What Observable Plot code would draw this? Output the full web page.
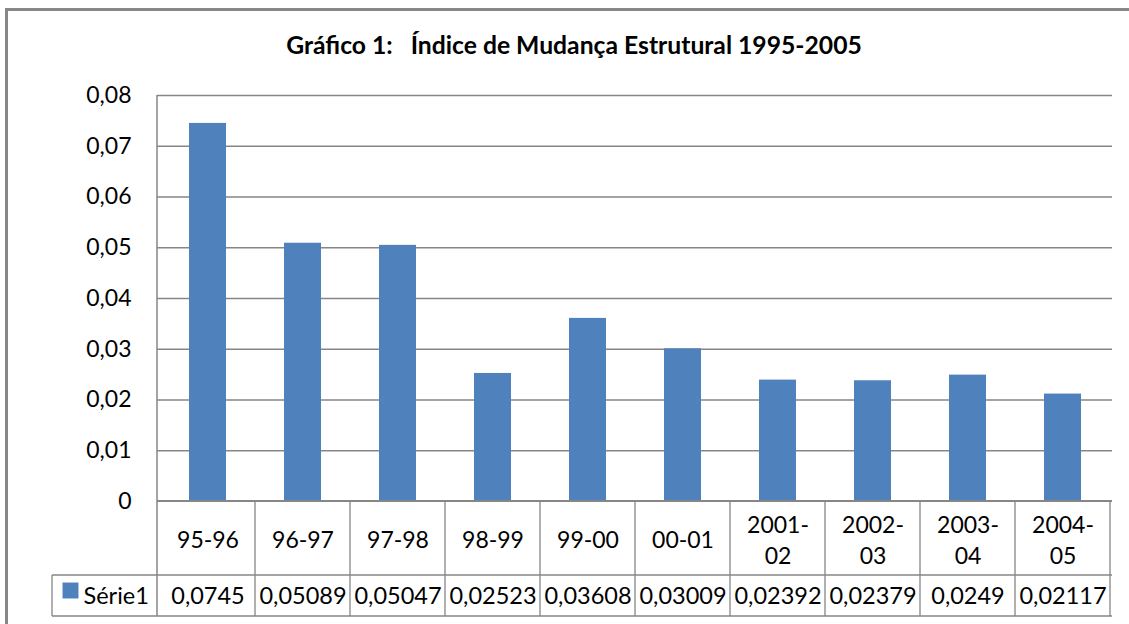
<!DOCTYPE html>
<html>
<head>
<meta charset="utf-8">
<script src="https://cdn.jsdelivr.net/npm/d3@7"></script>
<script src="https://cdn.jsdelivr.net/npm/@observablehq/plot@0.6"></script>
<style>
  html, body { margin: 0; padding: 0; background: #fff; }
  #wrap { position: relative; width: 1129px; height: 624px; overflow: hidden; }
  #border { position: absolute; left: 5px; top: 8px; width: 1200px; height: 700px;
            border-left: 3px solid #878787; border-top: 3px solid #878787; }
  #chart { position: absolute; left: 0; top: 0; }
</style>
</head>
<body>
<div id="wrap"><div id="border"></div><div id="chart"></div></div>
<script>
const title = "Gráfico 1:   Índice de Mudança Estrutural 1995-2005";
const categories = ["95-96", "96-97", "97-98", "98-99", "99-00", "00-01", "2001-02", "2002-03", "2003-04", "2004-05"];
const values = [0.0745, 0.05089, 0.05047, 0.02523, 0.03608, 0.03009, 0.02392, 0.02379, 0.0249, 0.02117];
const seriesName = "Série1";
const yTicks = [0, 0.01, 0.02, 0.03, 0.04, 0.05, 0.06, 0.07, 0.08];

const data = categories.map((c, i) => ({cat: c, value: values[i]}));
const comma = v => String(v).replace(".", ",");
const catLabel = c => c.length > 5 ? c.replace("-", "-\n") : c;

const gridColor = "#868686";
const barColor = "#4F81BD";
const font = "Lato, 'Open Sans', sans-serif";

// table grid drawn through the plot's scales
function tableGrid(index, scales, values, dims) {
  const {x, y} = scales;
  const left = dims.marginLeft;
  const right = dims.width - dims.marginRight;
  const y0 = y(0);
  const yTop = y(yTicks[yTicks.length - 1]);
  const row1 = y0 + 74;
  const row2 = y0 + 115;
  const headLeft = left - 105;
  const g = d3.create("svg:g").attr("stroke", gridColor).attr("fill", "none");
  g.append("line").attr("x1", left).attr("x2", left).attr("y1", yTop).attr("y2", row2).attr("stroke-width", 1.5);
  const bw = x.bandwidth();
  for (const c of x.domain()) {
    const xr = x(c) + bw;
    g.append("line").attr("x1", xr).attr("x2", xr).attr("y1", y0).attr("y2", row2).attr("stroke-width", 1.3);
  }
  g.append("line").attr("x1", left).attr("x2", right).attr("y1", y0).attr("y2", y0).attr("stroke-width", 2);
  g.append("line").attr("x1", headLeft).attr("x2", right).attr("y1", row1).attr("y2", row1).attr("stroke-width", 1.3);
  g.append("line").attr("x1", headLeft).attr("x2", right).attr("y1", row2).attr("y2", row2).attr("stroke-width", 1.3);
  g.append("line").attr("x1", headLeft).attr("x2", headLeft).attr("y1", row1).attr("y2", row2).attr("stroke-width", 1.3);
  return g.node();
}

const chart = Plot.plot({
  width: 1129,
  height: 624,
  marginTop: 95,
  marginLeft: 157,
  marginRight: 17,
  marginBottom: 123,
  style: {fontFamily: font, background: "transparent", color: "#000"},
  x: {type: "band", domain: categories, padding: 0, axis: null},
  y: {domain: [0, 0.08], axis: null},
  marks: [
    Plot.ruleY(yTicks.filter(d => d > 0), {stroke: gridColor, strokeWidth: 1.3}),
    Plot.barY(data, {x: "cat", y: "value", fill: barColor, insetLeft: 29, insetRight: 29}),
    tableGrid,
    Plot.axisY(yTicks, {label: null, tickFormat: comma, tickSize: 0, tickPadding: 26, fontSize: 23, fill: "#000"}),
    Plot.text(data, {x: "cat", y: d => 0, text: d => catLabel(d.cat), dy: 37, lineAnchor: "middle", lineHeight: 1.35, fontSize: 23, fill: "#000"}),
    Plot.text(data, {x: "cat", y: d => 0, text: d => comma(d.value), dy: 95, lineAnchor: "middle", fontSize: 23.5, fill: "#000"}),
    Plot.text([seriesName], {frameAnchor: "bottom-left", dx: -74, dy: 95, lineAnchor: "middle", textAnchor: "start", fontSize: 23.5, fill: "#000"}),
    Plot.dot([seriesName], {frameAnchor: "bottom-left", dx: -87, dy: 89, symbol: "square", r: 9, fill: barColor, stroke: null}),
    Plot.text([title], {frameAnchor: "top", dx: -61, dy: -49, lineAnchor: "middle", fontSize: 24.7, fontWeight: "bold", fill: "#000"})
  ]
});
document.getElementById("chart").append(chart);
</script>
</body>
</html>
